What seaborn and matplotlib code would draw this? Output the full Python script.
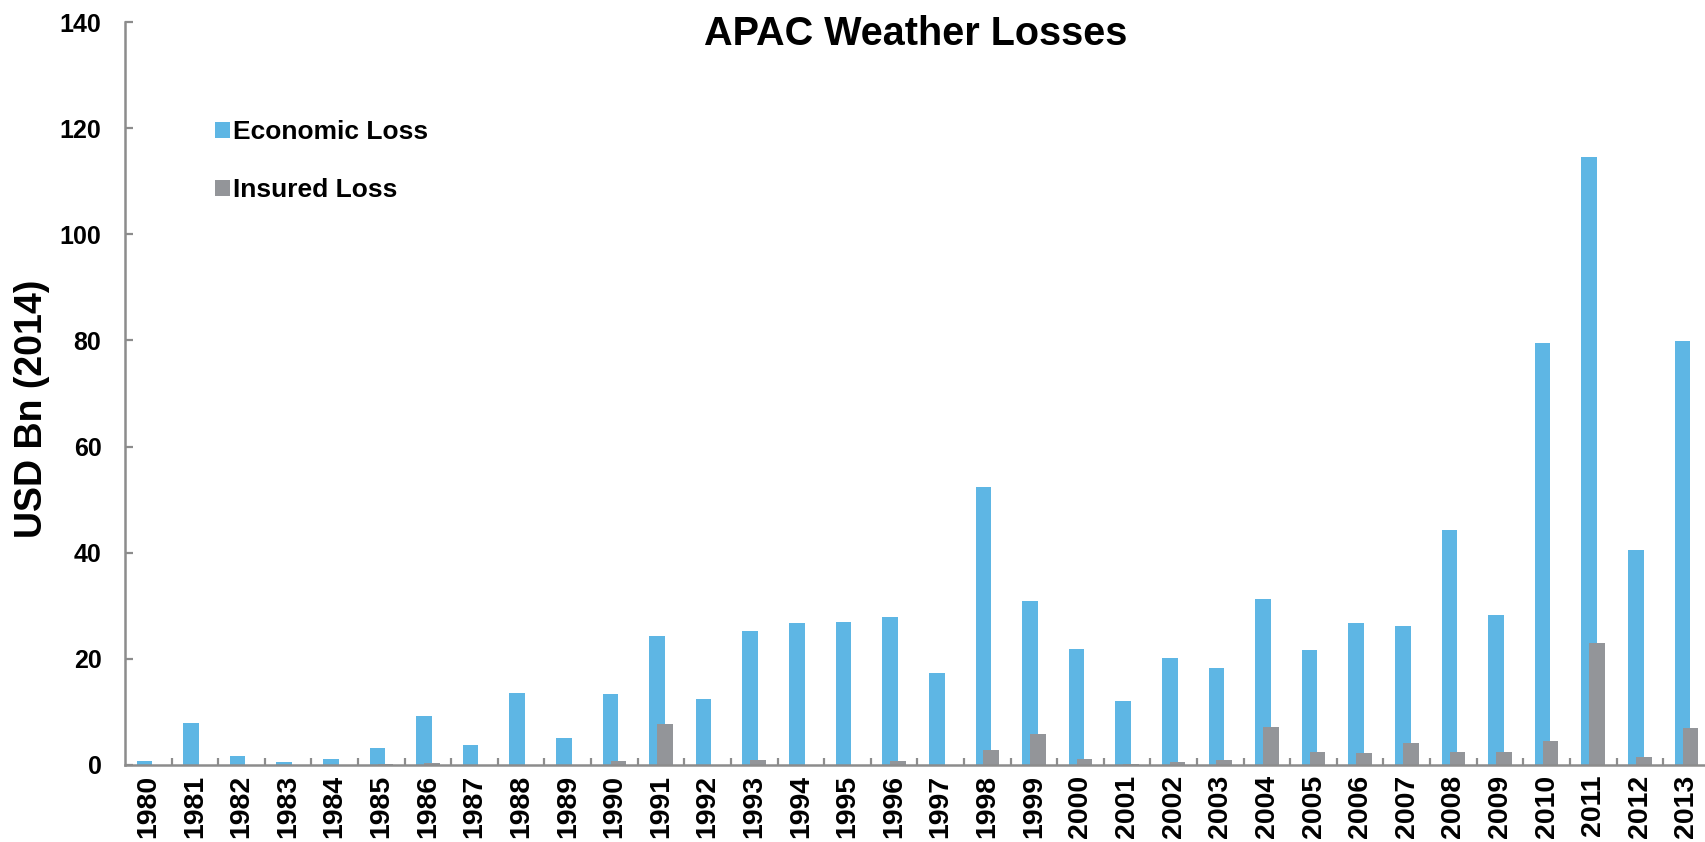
import numpy as np
import pandas as pd
import matplotlib
matplotlib.use("Agg")
import matplotlib.pyplot as plt
import seaborn as sns

years = [str(y) for y in range(1980, 2014)]
economic_loss = [0.8, 7.9, 1.7, 0.5, 1.1, 3.2, 9.3, 3.7, 13.5, 5.1,
                 13.3, 24.4, 12.4, 25.2, 26.8, 27.0, 27.9, 17.4, 52.3, 30.9,
                 21.9, 12.1, 20.1, 18.2, 31.2, 21.7, 26.8, 26.2, 44.3, 28.3,
                 79.6, 114.5, 40.6, 79.8]
insured_loss = [0.0, 0.0, 0.0, 0.0, 0.0, 0.1, 0.3, 0.0, 0.0, 0.0,
                0.7, 7.8, 0.0, 0.9, 0.0, 0.0, 0.7, 0.0, 2.8, 5.9,
                1.2, 0.2, 0.5, 1.0, 7.1, 2.4, 2.2, 4.2, 2.5, 2.5,
                4.6, 22.9, 1.6, 6.9]
series_names = ["Economic Loss", "Insured Loss"]
y_ticks = [0, 20, 40, 60, 80, 100, 120, 140]

df = pd.DataFrame({
    "Year": years * 2,
    "Loss": economic_loss + insured_loss,
    "Series": [series_names[0]] * len(years) + [series_names[1]] * len(years),
})

sns.set_style("white")
plt.rcParams["font.family"] = ["Liberation Sans", "DejaVu Sans"]
plt.rcParams["font.weight"] = "bold"
plt.rcParams["text.color"] = "black"
plt.rcParams["xtick.labelcolor"] = "black"
plt.rcParams["ytick.labelcolor"] = "black"

AXIS_GREY = "#8C8C8C"
palette = {"Economic Loss": "#5EB6E4", "Insured Loss": "#939599"}

fig = plt.figure(figsize=(17.06, 8.42), dpi=100)
ax = fig.add_axes([125 / 1706, 77 / 842, 1 - 125 / 1706, 743 / 842])

# overlapping paired bars: negative gap widens each dodged bar past its slot
sns.barplot(data=df, x="Year", y="Loss", hue="Series", hue_order=series_names,
            palette=palette, width=0.34, gap=-0.97, saturation=1,
            edgecolor="none", ax=ax)

ax.set_xlim(-0.5, 33.42)
ax.set_ylim(0, 140)
ax.set_yticks(y_ticks)
ax.set_xlabel("")
ax.set_ylabel("")

for side in ("top", "right"):
    ax.spines[side].set_visible(False)
for side in ("left", "bottom"):
    ax.spines[side].set_color(AXIS_GREY)
    ax.spines[side].set_linewidth(1.8)

ax.tick_params(axis="y", direction="in", length=6, width=1.6, color=AXIS_GREY,
               labelsize=18, pad=17, left=True)
ax.tick_params(axis="x", which="major", length=0, labelsize=20.5, pad=7,
               labelrotation=90)
ax.set_xticks(np.arange(0.5, 33, 1), minor=True)
ax.tick_params(axis="x", which="minor", direction="in", length=5, width=1.6,
               color=AXIS_GREY, bottom=True)
for lab in ax.get_xticklabels() + ax.get_yticklabels():
    lab.set_fontweight("bold")
    lab.set_color("black")

handles, labels = ax.get_legend_handles_labels()
ax.legend(handles, labels, loc="upper left",
          bbox_to_anchor=(215 / 1706, 1 - 120 / 842), bbox_transform=fig.transFigure,
          frameon=False, handlelength=0.55, handleheight=0.55,
          handletextpad=0.15, labelspacing=1.3, borderpad=0, borderaxespad=0,
          prop={"weight": "bold", "size": 19}, labelcolor="black")

fig.text(916 / 1706, 1 - 45 / 842, "APAC Weather Losses", ha="center",
         va="baseline", fontsize=28.5, fontweight="bold", color="black")
fig.text(32.5 / 1706, 1 - 409 / 842, "USD Bn (2014)", ha="center", va="center",
         rotation=90, fontsize=27, fontweight="bold", color="black")

fig.savefig("out.png", dpi=100, facecolor="white")
